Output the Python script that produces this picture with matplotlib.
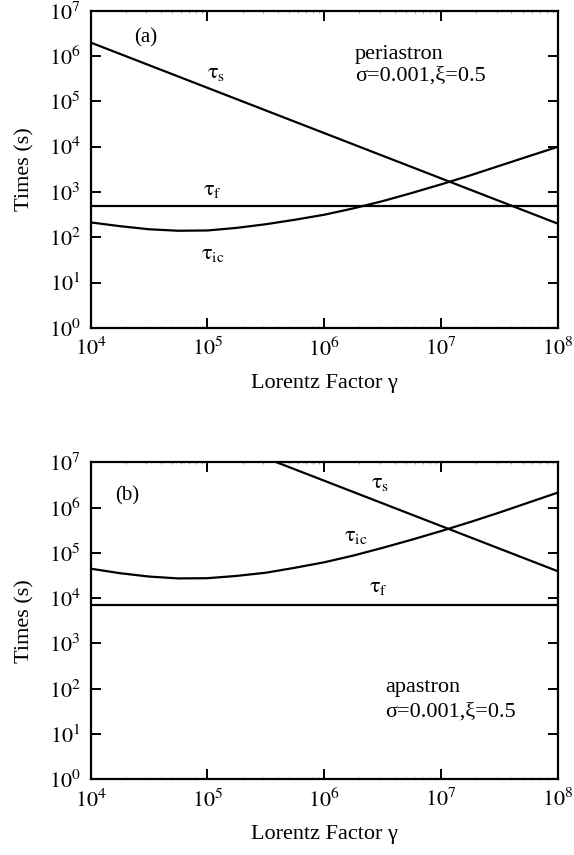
import matplotlib
matplotlib.use("Agg")
import matplotlib.pyplot as plt
from matplotlib.ticker import LogLocator, FixedLocator, NullFormatter

plt.rcParams['font.family'] = ['Liberation Serif', 'DejaVu Serif']
plt.rcParams['mathtext.fontset'] = 'stix'

# ---------------- data ----------------
gamma_ic = [1e4, 1.78e4, 3.16e4, 5.62e4, 1e5, 1.78e5, 3.16e5, 5.62e5, 1e6,
            1.78e6, 3.16e6, 5.62e6, 1e7, 1.78e7, 3.16e7, 5.62e7, 1e8]
# (a) periastron
tau_ic_a = [214, 177, 151, 140, 142, 162, 195, 245, 316,
            437, 631, 955, 1480, 2340, 3800, 6170, 10000]
gamma_s = [1e4, 1e8]
tau_s_a = [2.0e6, 2.0e2]
gamma_f = [1e4, 1e8]
tau_f_a = [500, 500]
# (b) apastron
tau_ic_b = [44700, 35500, 29900, 27200, 27500, 30900, 36300, 46800, 61700,
            87100, 128800, 195000, 302000, 479000, 776000, 1.29e6, 2.14e6]
tau_s_b = [3.9e8, 3.9e4]
tau_f_b = [7200, 7200]

x_ticks = [1e4, 1e5, 1e6, 1e7, 1e8]
x_ticklabels = [r'$10^{4}$', r'$10^{5}$', r'$10^{6}$', r'$10^{7}$', r'$10^{8}$']
y_ticks = [1e0, 1e1, 1e2, 1e3, 1e4, 1e5, 1e6, 1e7]
y_ticklabels = [r'$10^{%d}$' % k for k in range(8)]

W, H = 574, 855
fig = plt.figure(figsize=(W / 100, H / 100), dpi=100)

def px_axes(left, top, right, bottom):
    return fig.add_axes([left / W, 1 - bottom / H, (right - left) / W, (bottom - top) / H])

ax_a = px_axes(90.5, 10.8, 558, 328)
ax_b = px_axes(90.5, 462.2, 558, 779.3)

LW = 1.6
FS = 16

def style(ax):
    ax.set_xscale('log')
    ax.set_yscale('log')
    ax.set_xlim(1e4, 1e8)
    ax.set_ylim(1e0, 1e7)
    ax.xaxis.set_major_locator(FixedLocator(x_ticks))
    ax.set_xticklabels(x_ticklabels)
    ax.yaxis.set_major_locator(FixedLocator(y_ticks))
    ax.set_yticklabels(y_ticklabels)
    ax.xaxis.set_minor_locator(LogLocator(base=10, subs=range(2, 10)))
    ax.xaxis.set_minor_formatter(NullFormatter())
    ax.yaxis.set_minor_locator(FixedLocator([]))
    ax.tick_params(which='major', direction='in', length=7.5, width=1.4,
                   top=True, right=True, labelsize=FS, pad=7)
    ax.tick_params(axis='x', which='major', pad=7)
    ax.tick_params(which='minor', direction='in', length=1.5, width=0.6,
                   top=True, right=True, color='#888888')
    for s in ax.spines.values():
        s.set_linewidth(1.6)
    ax.set_xlabel('Lorentz Factor γ', fontsize=FS, labelpad=9.5)
    ax.set_ylabel('Times (s)', fontsize=FS, labelpad=10.5)

for ax in (ax_a, ax_b):
    style(ax)

def tau(sub):
    return r'$\mathrm{\tau}_{\mathrm{%s}}$' % sub

# panel (a)
ax_a.plot(gamma_s, tau_s_a, color='black', lw=LW)
ax_a.plot(gamma_f, tau_f_a, color='black', lw=LW)
ax_a.plot(gamma_ic, tau_ic_a, color='black', lw=LW)
ax_a.text(0.119, 0.914, '(a)', transform=ax_a.transAxes, fontsize=15, ha='center', va='center')
ax_a.text(0.268, 0.801, tau('s'), transform=ax_a.transAxes, fontsize=FS, ha='center', va='center')
ax_a.text(0.260, 0.435, tau('f'), transform=ax_a.transAxes, fontsize=FS, ha='center', va='center')
ax_a.text(0.262, 0.233, tau('ic'), transform=ax_a.transAxes, fontsize=FS, ha='center', va='center')
ax_a.text(0.566, 0.862, 'periastron', transform=ax_a.transAxes, fontsize=FS, ha='left', va='center')
ax_a.text(0.566, 0.793, 'σ=0.001,ξ=0.5', transform=ax_a.transAxes, fontsize=FS, ha='left', va='center')

# panel (b)
ax_b.plot(gamma_s, tau_s_b, color='black', lw=LW)
ax_b.plot(gamma_f, tau_f_b, color='black', lw=LW)
ax_b.plot(gamma_ic, tau_ic_b, color='black', lw=LW)
ax_b.text(0.078, 0.893, '(b)', transform=ax_b.transAxes, fontsize=15, ha='center', va='center')
ax_b.text(0.619, 0.934, tau('s'), transform=ax_b.transAxes, fontsize=FS, ha='center', va='center')
ax_b.text(0.568, 0.767, tau('ic'), transform=ax_b.transAxes, fontsize=FS, ha='center', va='center')
ax_b.text(0.615, 0.606, tau('f'), transform=ax_b.transAxes, fontsize=FS, ha='center', va='center')
ax_b.text(0.630, 0.290, 'apastron', transform=ax_b.transAxes, fontsize=FS, ha='left', va='center')
ax_b.text(0.630, 0.211, 'σ=0.001,ξ=0.5', transform=ax_b.transAxes, fontsize=FS, ha='left', va='center')

fig.savefig('out.png', dpi=100)
